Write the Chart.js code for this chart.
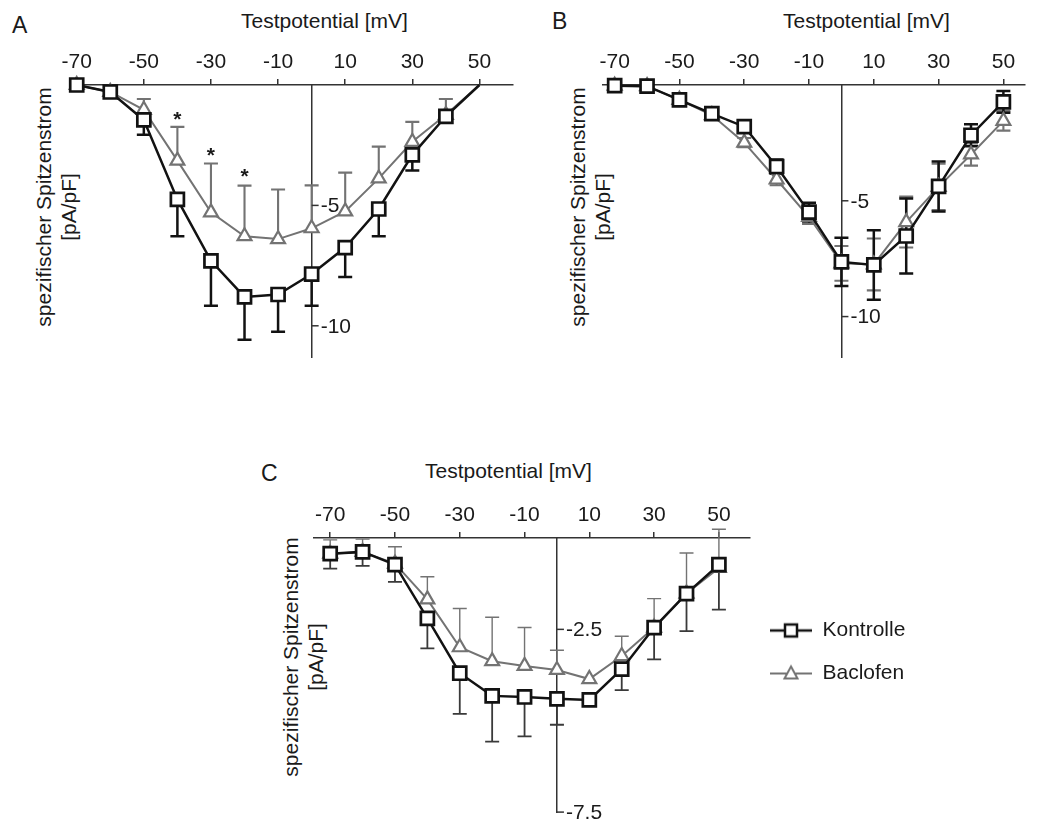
<!DOCTYPE html>
<html lang="de">
<head>
<meta charset="utf-8">
<title>Spezifischer Spitzenstrom</title>
<script src="https://cdn.jsdelivr.net/npm/chart.js@4.4.1/dist/chart.umd.min.js"></script>
<style>
  body { margin: 0; background: #fff; width: 1037px; height: 825px; overflow: hidden; position: relative;
         font-family: "Liberation Sans", Arial, sans-serif; color: #1a1a1a; }
  canvas { position: absolute; }
  .titel { position: absolute; font-size: 21px; line-height: 21px; white-space: nowrap; }
  .panel { position: absolute; font-size: 23px; line-height: 23px; }
  .ytitel { position: absolute; font-size: 21px; line-height: 25px; text-align: center; white-space: nowrap;
            transform: translate(-50%, -50%) rotate(-90deg); }
</style>
</head>
<body>

<div class="panel" style="left:12px;top:14px">A</div>
<div class="panel" style="left:552px;top:10px">B</div>
<div class="panel" style="left:261px;top:462px">C</div>

<div class="titel" style="left:241px;top:10px">Testpotential [mV]</div>
<div class="titel" style="left:783px;top:10px">Testpotential [mV]</div>
<div class="titel" style="left:425px;top:460px">Testpotential [mV]</div>

<div class="ytitel" style="left:56px;top:207px">spezifischer Spitzenstrom<br>[pA/pF]</div>
<div class="ytitel" style="left:590px;top:207px">spezifischer Spitzenstrom<br>[pA/pF]</div>
<div class="ytitel" style="left:303px;top:657px">spezifischer Spitzenstrom<br>[pA/pF]</div>

<canvas id="chartA" width="503" height="369" style="left:30px;top:0px"></canvas>
<canvas id="chartB" width="474" height="369" style="left:563px;top:0px"></canvas>
<canvas id="chartC" width="496" height="374" style="left:274px;top:450px"></canvas>
<canvas id="legende" width="400" height="130" style="left:748px;top:587px"></canvas>

<script>
// Testpotentiale (mV)
const spannung = [-70, -60, -50, -40, -30, -20, -10, 0, 10, 20, 30, 40, 50];
const xTickWerte = [-70, -50, -30, -10, 10, 30, 50];

// Panel A
const kontrolleA = [0, -0.29, -1.45, -4.75, -7.3, -8.8, -8.7, -7.85, -6.75, -5.15, -2.9, -1.3, 0];
const kontrolleAFehler = [0, 0, 0.62, 1.53, 1.87, 1.78, 1.55, 1.32, 1.22, 1.13, 0.65, 0.25, 0];
const baclofenA = [0, -0.29, -1.03, -3.14, -5.29, -6.28, -6.4, -5.95, -5.25, -3.88, -2.36, -1.24, 0];
const baclofenAFehler = [0, 0, 0.45, 1.4, 2.03, 2.1, 2.06, 1.78, 1.61, 1.32, 0.83, 0.66, 0];
const sternX = [-40, -30, -20];
const sternY = [-1.24, -2.77, -3.64];
const yTicksA = [-5, -10];

// Panel B
const kontrolleB = [-0.03, -0.05, -0.64, -1.24, -1.8, -3.52, -5.49, -7.64, -7.77, -6.52, -4.38, -2.17, -0.73];
const kontrolleBFehler = [0, 0, 0, 0, 0.15, 0.3, 0.4, 1.04, 1.5, 1.62, 1.08, 0.47, 0.47];
const baclofenB = [-0.03, -0.05, -0.64, -1.3, -2.49, -4.08, -5.7, -7.7, -7.75, -5.92, -4.4, -3.0, -1.55];
const baclofenBFehler = [0, 0, 0, 0, 0.2, 0.25, 0.3, 0.75, 1.12, 1.1, 1.0, 0.48, 0.42];
const yTicksB = [-5, -10];

// Panel C
const kontrolleC = [-0.43, -0.38, -0.73, -2.2, -3.7, -4.32, -4.35, -4.4, -4.43, -3.59, -2.45, -1.52, -0.73];
const kontrolleCFehler = [0.41, 0.38, 0.47, 0.82, 1.11, 1.25, 1.08, 0.71, 0.15, 0.57, 0.87, 1.03, 1.23];
const baclofenC = [-0.43, -0.38, -0.7, -1.68, -2.99, -3.37, -3.5, -3.61, -3.86, -3.23, -2.45, -1.52, -0.82];
const baclofenCFehler = [0.38, 0.35, 0.46, 0.62, 1.06, 1.2, 1.05, 0.54, 0, 0.54, 0.79, 1.11, 1.06];
const yTicksC = [-2.5, -7.5];

const schwarz = '#121212';
const grau = '#737373';
const textFarbe = '#1a1a1a';
const schrift = '"Liberation Sans", Arial, sans-serif';

function punkte(werte) {
    return spannung.map((v, i) => ({ x: v, y: werte[i] }));
}

// Fehlerbalken (unter den Markern)
const fehlerBalken = {
    id: 'fehlerBalken',
    beforeDatasetsDraw(chart) {
        const { ctx, scales: { x, y } } = chart;
        ctx.save();
        for (let d = chart.data.datasets.length - 1; d >= 0; d--) {
            const ds = chart.data.datasets[d];
            if (!ds.fehler) continue;
            ctx.strokeStyle = ds.fehlerFarbe;
            ctx.lineWidth = ds.fehlerBreite;
            ds.data.forEach((p, i) => {
                const px = x.getPixelForValue(p.x);
                const py = y.getPixelForValue(p.y);
                [[ds.fehler.oben, 1], [ds.fehler.unten, -1]].forEach(([arr, s]) => {
                    if (!arr || !arr[i]) return;
                    const pe = y.getPixelForValue(p.y + s * arr[i]);
                    ctx.beginPath();
                    ctx.moveTo(px, py);
                    ctx.lineTo(px, pe);
                    ctx.moveTo(px - 7, pe);
                    ctx.lineTo(px + 7, pe);
                    ctx.stroke();
                });
            });
        }
        ctx.restore();
    }
};

// y-Achse in der Mitte, Beschriftung rechts davon
const rechteYAchse = {
    id: 'rechteYAchse',
    afterDraw(chart, args, opts) {
        const { ctx, scales: { x, y } } = chart;
        const px = x.getPixelForValue(0);
        ctx.save();
        ctx.strokeStyle = '#333';
        ctx.lineWidth = 1.5;
        ctx.fillStyle = textFarbe;
        ctx.font = '21px ' + schrift;
        ctx.textAlign = 'left';
        ctx.textBaseline = 'middle';
        opts.werte.forEach(v => {
            const py = y.getPixelForValue(v);
            ctx.beginPath();
            ctx.moveTo(px, py);
            ctx.lineTo(px + 7, py);
            ctx.stroke();
            ctx.fillText(String(v), px + 9, py + 1);
        });
        ctx.restore();
    }
};

// Signifikanz-Sterne
const sterne = {
    id: 'sterne',
    afterDatasetsDraw(chart, args, opts) {
        if (!opts.x) return;
        const { ctx, scales: { x, y } } = chart;
        ctx.save();
        ctx.fillStyle = textFarbe;
        ctx.font = 'bold 21px ' + schrift;
        ctx.textAlign = 'center';
        ctx.textBaseline = 'middle';
        opts.x.forEach((v, i) => {
            ctx.fillText('*', x.getPixelForValue(v), y.getPixelForValue(opts.y[i]) + 5);
        });
        ctx.restore();
    }
};

function zeichnePanel(id, p) {
    const datasets = [
        {
            label: 'Kontrolle',
            data: punkte(p.kontrolle),
            borderColor: schwarz,
            borderWidth: 2.5,
            pointStyle: 'rect',
            pointRadius: c => (p.ohneMarker.includes(c.dataIndex) ? 0 : 9.2),
            pointBorderWidth: 2.7,
            pointBackgroundColor: '#fff',
            pointBorderColor: schwarz,
            tension: 0,
            clip: false,
            fehler: p.kFehler,
            fehlerFarbe: p.kFehlerFarbe,
            fehlerBreite: p.fehlerBreite
        },
        {
            label: 'Baclofen',
            data: punkte(p.baclofen),
            borderColor: grau,
            borderWidth: 2,
            pointStyle: 'triangle',
            pointRadius: c => (p.ohneMarker.includes(c.dataIndex) ? 0 : 8),
            pointBorderWidth: 2.2,
            pointBackgroundColor: '#fff',
            pointBorderColor: grau,
            tension: 0,
            clip: false,
            fehler: p.bFehler,
            fehlerFarbe: grau,
            fehlerBreite: p.fehlerBreite - 0.4
        }
    ];

    new Chart(document.getElementById(id), {
        type: 'line',
        data: { datasets: datasets },
        options: {
            responsive: false,
            maintainAspectRatio: false,
            animation: false,
            layout: { padding: p.padding },
            scales: {
                x: {
                    type: 'linear',
                    position: 'top',
                    min: p.xMin,
                    max: p.xMax,
                    afterBuildTicks: s => { s.ticks = xTickWerte.map(v => ({ value: v })); },
                    afterFit: s => { s.height = 40; },
                    ticks: {
                        callback: v => String(v),
                        font: { size: 21, family: schrift },
                        color: textFarbe,
                        padding: 4,
                        maxRotation: 0,
                        autoSkip: false
                    },
                    grid: { display: true, drawOnChartArea: false, drawTicks: true, tickLength: 6, color: '#333', lineWidth: 1.5 },
                    border: { display: true, color: '#333', width: 1.5 }
                },
                y: {
                    type: 'linear',
                    position: { x: 0 },
                    min: p.yMin,
                    max: 0,
                    ticks: { display: false },
                    grid: { display: false },
                    border: { display: true, color: '#333', width: 1.5 }
                }
            },
            plugins: {
                legend: { display: false },
                tooltip: { enabled: false },
                rechteYAchse: { werte: p.yTicks },
                sterne: { x: p.sternX, y: p.sternY }
            }
        },
        plugins: [fehlerBalken, rechteYAchse, sterne]
    });
}

zeichnePanel('chartA', {
    kontrolle: kontrolleA, baclofen: baclofenA,
    kFehler: { unten: kontrolleAFehler }, bFehler: { oben: baclofenAFehler },
    kFehlerFarbe: schwarz, fehlerBreite: 2.5,
    ohneMarker: [12],
    xMin: -72, xMax: 60, yMin: -11.3, yTicks: yTicksA,
    sternX: sternX, sternY: sternY,
    padding: { left: 40, right: 20, top: 45, bottom: 10 }
});

zeichnePanel('chartB', {
    kontrolle: kontrolleB, baclofen: baclofenB,
    kFehler: { oben: kontrolleBFehler, unten: kontrolleBFehler },
    bFehler: { oben: baclofenBFehler, unten: baclofenBFehler },
    kFehlerFarbe: schwarz, fehlerBreite: 2.5,
    ohneMarker: [],
    xMin: -73.6, xMax: 56.7, yMin: -11.75, yTicks: yTicksB,
    padding: { left: 40, right: 0, top: 45, bottom: 10 }
});

zeichnePanel('chartC', {
    kontrolle: kontrolleC, baclofen: baclofenC,
    kFehler: { unten: kontrolleCFehler }, bFehler: { oben: baclofenCFehler },
    kFehlerFarbe: '#3a3a3a', fehlerBreite: 1.8,
    ohneMarker: [],
    xMin: -75, xMax: 59.6, yMin: -7.5, yTicks: yTicksC,
    padding: { left: 40, right: 20, top: 48, bottom: 10 }
});

// Legendensymbole: Linie mit Marker
function legendenSymbol(form, farbe, breite) {
    const c = document.createElement('canvas');
    c.width = 42;
    c.height = 22;
    const g = c.getContext('2d');
    g.strokeStyle = farbe;
    g.lineWidth = breite;
    g.beginPath();
    g.moveTo(0, 11);
    g.lineTo(42, 11);
    g.stroke();
    g.fillStyle = '#fff';
    g.beginPath();
    if (form === 'rect') {
        g.rect(15, 5, 12, 12);
    } else {
        g.moveTo(21, 4);
        g.lineTo(27.5, 16);
        g.lineTo(14.5, 16);
        g.closePath();
    }
    g.fill();
    g.stroke();
    return c;
}

const legendenNamen = ['Kontrolle', 'Baclofen'];
const symbole = [legendenSymbol('rect', schwarz, 2.5), legendenSymbol('triangle', grau, 2)];

new Chart(document.getElementById('legende'), {
    type: 'line',
    data: {
        datasets: legendenNamen.map(n => ({ label: n, data: [] }))
    },
    options: {
        responsive: false,
        maintainAspectRatio: false,
        animation: false,
        layout: { padding: 0 },
        scales: { x: { display: false }, y: { display: false } },
        plugins: {
            tooltip: { enabled: false },
            legend: {
                position: 'left',
                align: 'center',
                labels: {
                    usePointStyle: true,
                    pointStyleWidth: 42,
                    padding: 22,
                    color: textFarbe,
                    font: { size: 21, family: schrift },
                    generateLabels: chart => chart.data.datasets.map((ds, i) => ({
                        text: ds.label,
                        pointStyle: symbole[i],
                        datasetIndex: i,
                        hidden: false,
                        fillStyle: 'transparent',
                        strokeStyle: 'transparent',
                        lineWidth: 0,
                        fontColor: textFarbe
                    }))
                }
            }
        }
    }
});
</script>
</body>
</html>
